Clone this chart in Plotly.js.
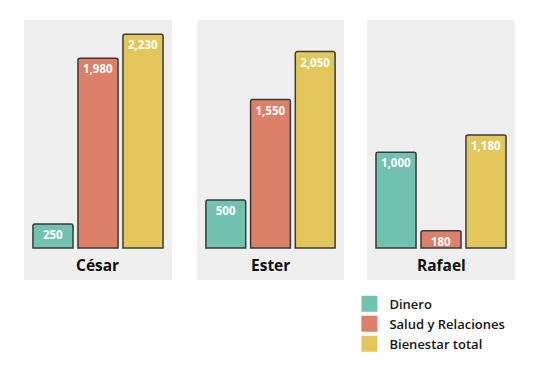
<!DOCTYPE html>
<html>
<head>
<meta charset="utf-8">
<script src="https://cdn.plot.ly/plotly-3.0.1.min.js"></script>
<style>html,body{margin:0;padding:0;background:#fff;}#chart{width:533px;height:368px;}</style>
</head>
<body>
<div id="chart"></div>
<script>
const people = ["César", "Ester", "Rafael"];
const seriesNames = ["Dinero", "Salud y Relaciones", "Bienestar total"];
const dinero = [250, 500, 1000];
const salud = [1980, 1550, 180];
const bienestar = [2230, 2050, 1180];
const seriesValues = [dinero, salud, bienestar];
const colors = ["#72c2b0", "#dc806a", "#e3c75b"];

const xDomains = [[0.045, 0.3227], [0.3696, 0.6454], [0.6886, 0.9662]];
const yDomain = [0.2391, 0.9457];
const font = "Open Sans, Lato, sans-serif";

const traces = [];
people.forEach((p, pi) => {
  const ax = pi === 0 ? "" : String(pi + 1);
  seriesNames.forEach((s, si) => {
    traces.push({
      type: "bar",
      x: [si],
      y: [seriesValues[si][pi]],
      xaxis: "x" + ax,
      yaxis: "y" + ax,
      width: 0.89,
      marker: {color: colors[si], line: {color: "#3a3a3a", width: 1.5}, cornerradius: 2},
      texttemplate: "%{y:,}",
      textposition: "inside",
      insidetextanchor: "end",
      constraintext: "none",
      textfont: {family: font, size: 11.5, color: "#ffffff", weight: 700},
      showlegend: false,
      hoverinfo: "skip",
      name: s
    });
  });
});
// legend entries
seriesNames.forEach((s, si) => {
  traces.push({
    type: "bar", x: [null], y: [null], name: s,
    marker: {color: colors[si], line: {color: colors[si], width: 4}},
    showlegend: true, hoverinfo: "skip"
  });
});

const layout = {
  width: 533, height: 368,
  margin: {l: 0, r: 0, t: 0, b: 0},
  paper_bgcolor: "#ffffff",
  plot_bgcolor: "#efefef",
  barmode: "overlay",
  showlegend: true,
  legend: {
    x: 0.6556, y: 0.215, xanchor: "left", yanchor: "top",
    font: {family: font, size: 13, color: "#151515", weight: 600},
    bgcolor: "rgba(0,0,0,0)", tracegroupgap: 0
  },
  annotations: []
};
people.forEach((p, pi) => {
  const ax = pi === 0 ? "" : String(pi + 1);
  const axc = {showgrid: false, zeroline: false, showticklabels: false, showline: false, ticks: "", fixedrange: true};
  layout["xaxis" + ax] = Object.assign({}, axc, {domain: xDomains[pi], range: [-0.644, 2.644], anchor: "y" + ax});
  layout["yaxis" + ax] = Object.assign({}, axc, {domain: yDomain, range: [-334, 2380], anchor: "x" + ax});
  layout.annotations.push({
    text: p, xref: "x" + ax + " domain", yref: "paper", x: 0.5, y: 1 - 265 / 368,
    xanchor: "center", yanchor: "middle", showarrow: false,
    font: {family: font, size: 15.5, color: "#111111", weight: 700}
  });
});

Plotly.newPlot("chart", traces, layout, {displayModeBar: false, staticPlot: true});
</script>
</body>
</html>
